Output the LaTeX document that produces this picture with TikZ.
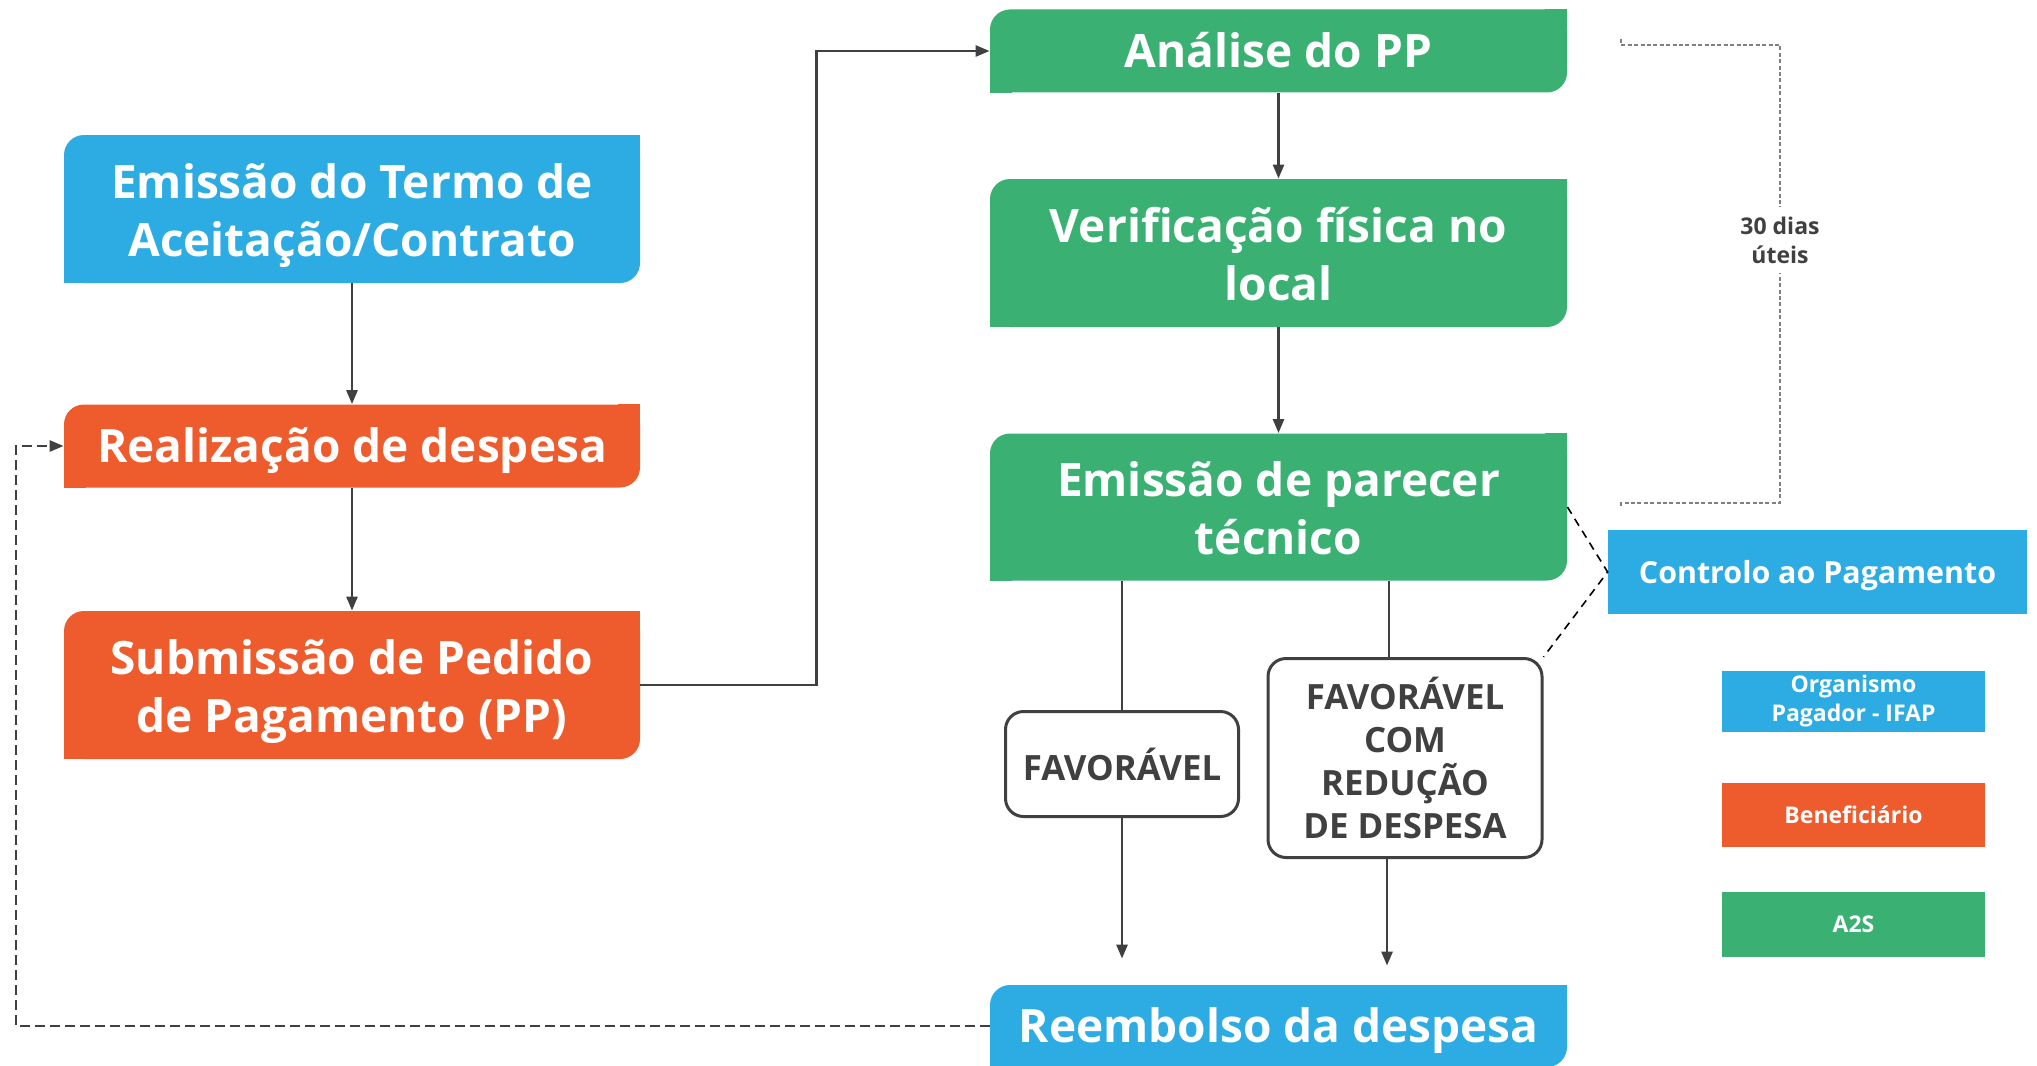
\documentclass[tikz,border=0pt]{standalone}
\usepackage{fontspec}
\setmainfont{Open Sans}
\usetikzlibrary{arrows.meta}
\definecolor{ifapblue}{HTML}{2DABE3}
\definecolor{benorange}{HTML}{EE5B2C}
\definecolor{atwosgreen}{HTML}{3AB073}
\definecolor{linegrey}{HTML}{404040}

\begin{document}
\begin{tikzpicture}[x=0.5pt,y=-0.5pt,
    stage/.style={rectangle, rounded corners=10pt, text=white, align=center, inner sep=0pt,
      font=\bfseries\fontsize{23}{29}\selectfont},
    oneline/.style={text height=20pt, text depth=3.6pt},
    twoline/.style={text height=50pt, text depth=2.6pt},
    answer/.style={rectangle, rounded corners=9pt, draw=linegrey, line width=1.5pt, fill=white,
      text=linegrey, align=center, inner sep=0pt, font=\bfseries\fontsize{17.4}{21.5}\selectfont},
    legend/.style={rectangle, text=white, align=center, inner sep=0pt, minimum width=131.5pt,
      font=\bfseries\fontsize{11.5}{14.5}\selectfont},
    flow/.style={-{Triangle[length=7pt,width=5.5pt]}, linegrey, line width=1.3pt}]
    \useasboundingbox (0,0) rectangle (2037,1065);
    % left column
    \node[stage, twoline, fill=ifapblue, minimum width=288pt, minimum height=74pt] (termo) at (352,209) {Emissão do Termo de\\Aceitação/Contrato};
    \node[stage, oneline, fill=benorange, minimum width=288pt, minimum height=41.5pt] (realiz) at (352,446) {Realização de despesa};
    \node[stage, twoline, fill=benorange, minimum width=288pt, minimum height=74pt] (subm) at (352,685) {Submissão de Pedido\\de Pagamento (PP)};
    % right column
    \node[stage, oneline, fill=atwosgreen, minimum width=288.5pt, minimum height=41.5pt] (analise) at (1278.5,51) {Análise do PP};
    \node[stage, twoline, fill=atwosgreen, minimum width=288.5pt, minimum height=74pt] (verif) at (1278.5,253) {Verificação física no\\local};
    \node[stage, twoline, fill=atwosgreen, minimum width=288.5pt, minimum height=73.5pt] (parecer) at (1278.5,507) {Emissão de parecer\\técnico};
    \node[stage, oneline, fill=ifapblue, minimum width=288.5pt, minimum height=41pt] (reemb) at (1278.5,1026) {Reembolso da despesa};
    \foreach \n/\c in {termo/ifapblue, realiz/benorange, subm/benorange, analise/atwosgreen,
        verif/atwosgreen, parecer/atwosgreen, reemb/ifapblue}{
        \fill[\c] (\n.north east) rectangle ++(-11pt,-11pt);
        \fill[\c] (\n.south west) rectangle ++(11pt,11pt);
    }
    \node[answer, minimum width=116.5pt, minimum height=52.5pt] (fav1) at (1122,764) {FAVORÁVEL};
    \node[answer, minimum width=137pt, minimum height=99.5pt] (fav2) at (1405,758) {FAVORÁVEL\\COM\\REDUÇÃO\\DE DESPESA};
    % side boxes and legend
    \node[legend, fill=ifapblue, minimum width=209.5pt, minimum height=42pt, text height=14.5pt, text depth=3pt, font=\bfseries\fontsize{15.2}{19}\selectfont] (controlo) at (1817.5,572) {Controlo ao Pagamento};
    \node[legend, fill=ifapblue, minimum height=30.5pt] (orgpag) at (1853.5,701) {Organismo\\Pagador - IFAP};
    \node[legend, fill=benorange, minimum height=32pt] (benef) at (1853.5,815) {Beneficiário};
    \node[legend, fill=atwosgreen, minimum height=32.5pt] (atwos) at (1853.5,924) {A2S};
    % 30 days bracket
    \draw[gray, line width=0.6pt, dash pattern=on 2pt off 1.2pt] (1621,39) -- (1621,45) -- (1780,45) -- (1780,503) -- (1621,503) -- (1621,507);
    \node[fill=white, text=linegrey, align=center, inner xsep=2pt, inner ysep=5pt, font=\bfseries\fontsize{11.5}{14.5}\selectfont] (prazo) at (1780,240) {30 dias\\úteis};
    % connectors
    \draw[flow] (termo) -- (realiz);
    \draw[flow] (realiz) -- (subm);
    \draw[flow] (subm.east) -- ++(176,0) |- (analise.west);
    \draw[flow] (analise) -- (verif);
    \draw[flow] (verif) -- (parecer);
    \draw[linegrey, line width=1.3pt] (fav1.north |- parecer.south) -- (fav1.north);
    \draw[linegrey, line width=1.3pt] ([xshift=-8pt]fav2.north |- parecer.south) -- ([xshift=-8pt]fav2.north);
    \draw[flow, shorten >=13pt] (fav1.south) -- (fav1.south |- reemb.north);
    \draw[flow, shorten >=9.5pt] ([xshift=-9pt]fav2.south) -- ([xshift=-9pt]fav2.south |- reemb.north);
    \draw[flow, dash pattern=on 5pt off 2.5pt] (reemb.west) -- (16,1026) |- (realiz.west);
    \draw[black, line width=0.8pt, dash pattern=on 4pt off 3pt] (parecer.east) -- (controlo.west) -- (fav2.north east);
\end{tikzpicture}
\end{document}
